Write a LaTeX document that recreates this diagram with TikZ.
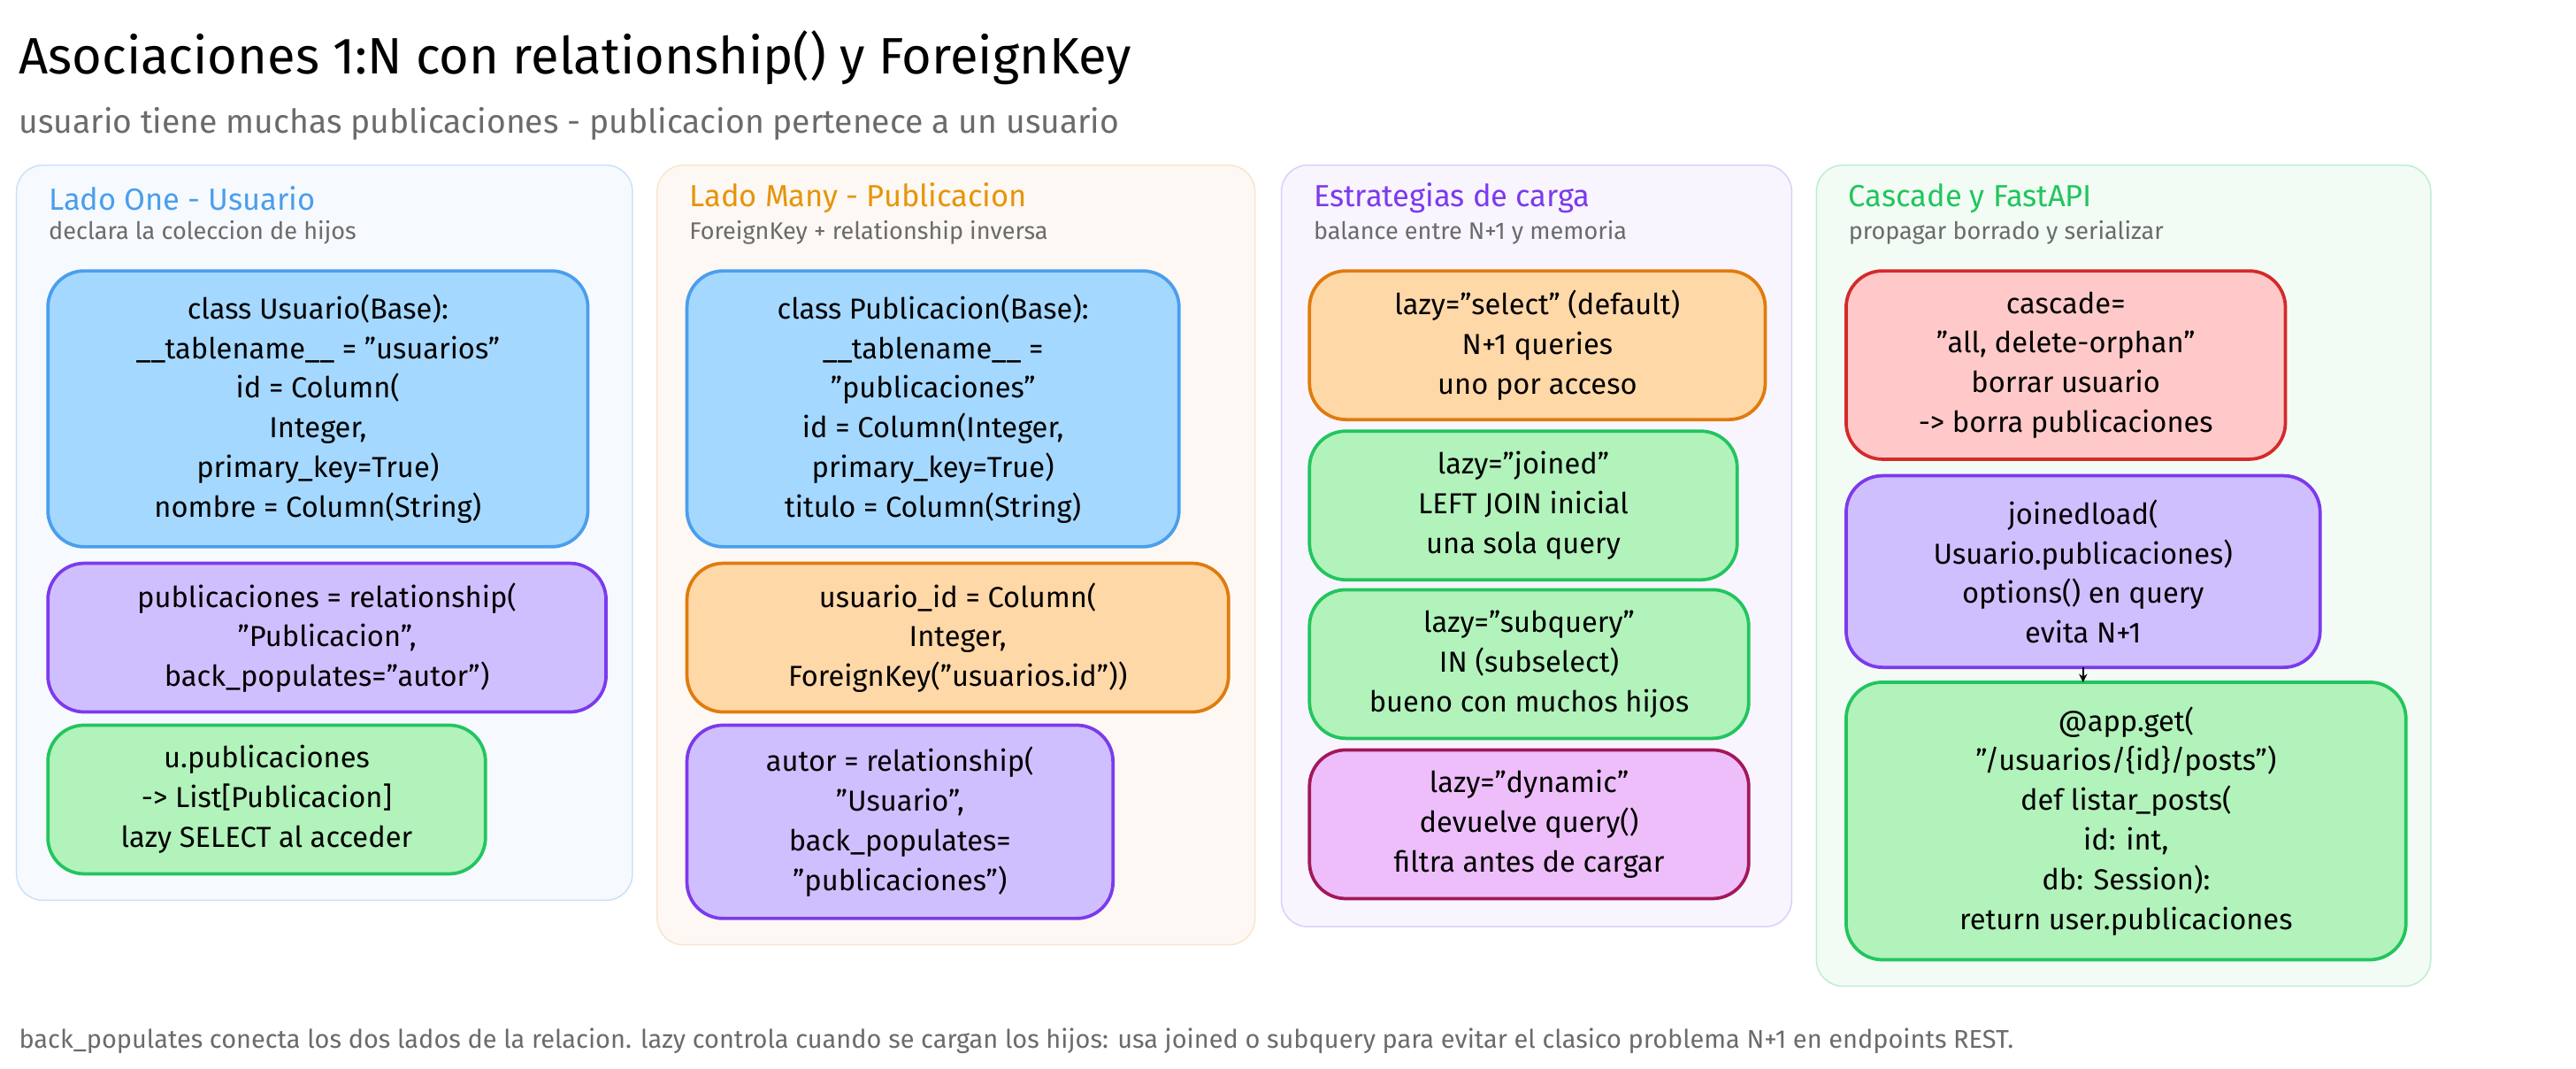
\documentclass[tikz,border=0pt]{standalone}
\usepackage{fontspec}
\setmainfont{Fira Sans}
\usetikzlibrary{arrows.meta}
\definecolor{bluefill}{HTML}{A5D8FF}\definecolor{bluedraw}{HTML}{4A9EED}
\definecolor{purplefill}{HTML}{D0BFFF}\definecolor{purpledraw}{HTML}{7C3AED}
\definecolor{greenfill}{HTML}{B2F2BB}\definecolor{greendraw}{HTML}{22C55E}
\definecolor{orangefill}{HTML}{FFD8A8}\definecolor{orangedraw}{HTML}{E07B0C}
\definecolor{redfill}{HTML}{FFC9C9}\definecolor{reddraw}{HTML}{D42A2A}
\definecolor{pinkfill}{HTML}{EEBEFA}\definecolor{pinkdraw}{HTML}{A3185A}
\definecolor{greytext}{HTML}{6B6B6B}
\newcommand\qt{\char34\relax}
\tikzset{
  panel/.style={rounded corners=16pt, line width=0.8pt},
  codebox/.style={draw, rounded corners=22pt, line width=2pt, anchor=north west,
    align=center, inner sep=0pt, font=\fontsize{17.5}{24}\selectfont},
  head/.style={anchor=west, font=\fontsize{18.5}{20}\selectfont},
  sub/.style={anchor=west, text=greytext, font=\fontsize{14.5}{16}\selectfont}
}
\begin{document}
\begin{tikzpicture}[x=1pt, y=-1pt]
	\useasboundingbox (0,0) rectangle (1560,647);
	\fill[white] (0,0) rectangle (1560,647);
	% title
	\node[anchor=west, font=\fontsize{31}{34}\selectfont] (title) at (8,35) {Asociaciones 1:N con relationship() y ForeignKey};
	\node[anchor=west, text=greytext, font=\fontsize{20}{22}\selectfont] (subtitle) at (8,75) {usuario tiene muchas publicaciones - publicacion pertenece a un usuario};
	% panels
	\draw[panel, draw=bluedraw!30, fill=bluedraw!5] (10,100) rectangle (383,545);
	\draw[panel, draw=orangedraw!20, fill=orangedraw!5] (398,100) rectangle (760,572);
	\draw[panel, draw=purpledraw!25, fill=purpledraw!5] (776,100) rectangle (1085,561);
	\draw[panel, draw=greendraw!30, fill=greendraw!6] (1100,100) rectangle (1472,597);
	\node[head, text=bluedraw] (h1) at (26,120) {Lado One - Usuario};
	\node[sub] (s1) at (26,141) {declara la coleccion de hijos};
	\node[head, text=orangedraw!80!yellow] (h2) at (414,120) {Lado Many - Publicacion};
	\node[sub] (s2) at (414,141) {ForeignKey + relationship inversa};
	\node[head, text=purpledraw] (h3) at (792,120) {Estrategias de carga};
	\node[sub] (s3) at (792,141) {balance entre N+1 y memoria};
	\node[head, text=greendraw] (h4) at (1116,120) {Cascade y FastAPI};
	\node[sub] (s4) at (1116,141) {propagar borrado y serializar};
	% lado one
	\node[codebox, draw=bluedraw, fill=bluefill, minimum width=327pt, minimum height=167pt] (usuario) at (28,163) {class Usuario(Base):\\\_\_tablename\_\_ = \qt usuarios\qt\\id = Column(\\Integer,\\primary\_key=True)\\nombre = Column(String)};
	\node[codebox, draw=purpledraw, fill=purplefill, minimum width=338pt, minimum height=90pt] (rel1) at (28,340) {publicaciones = relationship(\\\qt Publicacion\qt,\\back\_populates=\qt autor\qt)};
	\node[codebox, draw=greendraw, fill=greenfill, minimum width=265pt, minimum height=90pt] (lista) at (28,438) {u.publicaciones\\-> List[Publicacion]\\lazy SELECT al acceder};
	% lado many
	\node[codebox, draw=bluedraw, fill=bluefill, minimum width=298pt, minimum height=167pt] (publicacion) at (415,163) {class Publicacion(Base):\\\_\_tablename\_\_ =\\\qt publicaciones\qt\\id = Column(Integer,\\primary\_key=True)\\titulo = Column(String)};
	\node[codebox, draw=orangedraw, fill=orangefill, minimum width=328pt, minimum height=90pt] (fk) at (415,340) {usuario\_id = Column(\\Integer,\\ForeignKey(\qt usuarios.id\qt))};
	\node[codebox, draw=purpledraw, fill=purplefill, minimum width=258pt, minimum height=117pt] (rel2) at (415,438) {autor = relationship(\\\qt Usuario\qt,\\back\_populates=\\\qt publicaciones\qt)};
	% estrategias
	\node[codebox, draw=orangedraw, fill=orangefill, minimum width=276pt, minimum height=90pt] (select) at (792,163) {lazy=\qt select\qt\ (default)\\N+1 queries\\uno por acceso};
	\node[codebox, draw=greendraw, fill=greenfill, minimum width=259pt, minimum height=90pt] (joined) at (792,260) {lazy=\qt joined\qt\\LEFT JOIN inicial\\una sola query};
	\node[codebox, draw=greendraw, fill=greenfill, minimum width=266pt, minimum height=90pt] (subquery) at (792,356) {lazy=\qt subquery\qt\\IN (subselect)\\bueno con muchos hijos};
	\node[codebox, draw=pinkdraw, fill=pinkfill, minimum width=266pt, minimum height=90pt] (dynamic) at (792,453) {lazy=\qt dynamic\qt\\devuelve query()\\filtra antes de cargar};
	% cascade y fastapi
	\node[codebox, draw=reddraw, fill=redfill, minimum width=266pt, minimum height=114pt] (cascade) at (1117,163) {cascade=\\\qt all, delete-orphan\qt\\borrar usuario\\-> borra publicaciones};
	\node[codebox, draw=purpledraw, fill=purplefill, minimum width=287pt, minimum height=116pt] (joinedload) at (1117,287) {joinedload(\\Usuario.publicaciones)\\options() en query\\evita N+1};
	\node[codebox, draw=greendraw, fill=greenfill, minimum width=339pt, minimum height=168pt] (endpoint) at (1117,412) {@app.get(\\\qt/usuarios/\{id\}/posts\qt)\\def listar\_posts(\\id: int,\\db: Session):\\return user.publicaciones};
	\draw[-{Stealth[length=5pt, width=5pt]}, line width=1.3pt, shorten <=-1pt, shorten >=-1pt] (joinedload.south) -- (joinedload.south |- endpoint.north);
	% footer
	\node[anchor=west, text=greytext, font=\fontsize{15.5}{18}\selectfont] (footer) at (8,630) {back\_populates conecta los dos lados de la relacion. lazy controla cuando se cargan los hijos: usa joined o subquery para evitar el clasico problema N+1 en endpoints REST.};
\end{tikzpicture}
\end{document}
